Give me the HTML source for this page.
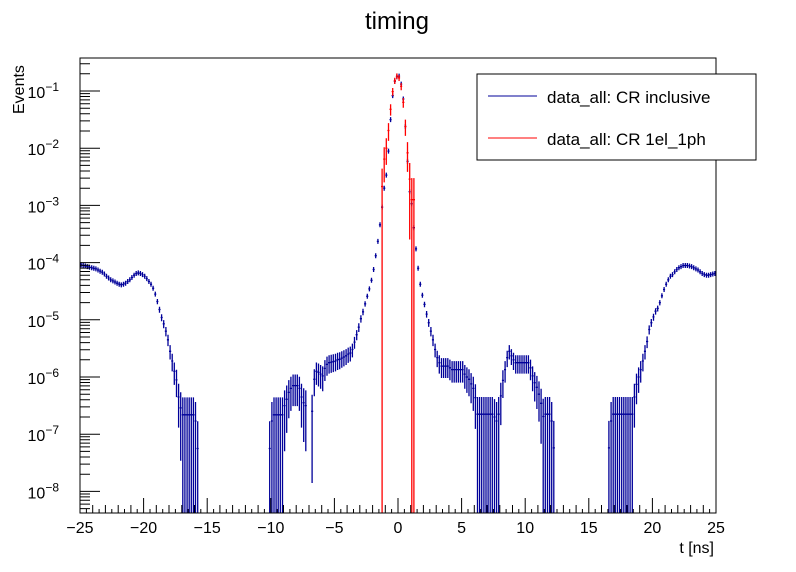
<!DOCTYPE html>
<html><head><meta charset="utf-8">
<style>
html,body{margin:0;padding:0;background:#fff;}
svg{display:block;font-family:"Liberation Sans",Arial,sans-serif;}
</style></head>
<body>
<svg id="chart" width="796" height="572" viewBox="0 0 796 572" xmlns="http://www.w3.org/2000/svg">
<rect x="0" y="0" width="796" height="572" fill="#fff"/>
<text x="397" y="29" font-size="24" text-anchor="middle">timing</text>
<g id="plot"></g>
<g id="axes"></g>
<rect x="80" y="58" width="636" height="455" fill="none" stroke="#000" stroke-width="1"/>
<text x="714" y="553" font-size="16" text-anchor="end">t [ns]</text>
<text transform="translate(24,114) rotate(-90)" font-size="16" text-anchor="start">Events</text>
<g>
<rect x="477" y="74" width="279" height="86" fill="#fff" stroke="#000" stroke-width="1"/>
<line x1="488" y1="96" x2="537" y2="96" stroke="#000099" stroke-width="1"/>
<text x="547" y="103" font-size="17">data_all: CR inclusive</text>
<line x1="488" y1="138" x2="537" y2="138" stroke="#ff0000" stroke-width="1"/>
<text x="547" y="145" font-size="17">data_all: CR 1el_1ph</text>
</g>
</svg>
<script>
// ---- data (log10 of Events per bin, bins of 1/6 ns from -25 to 25) ----
const binWidth = 1/6;
const xMin = -25;
const inclusiveLog = [
-4.04,-4.05,-4.06,-4.07,-4.08,-4.09,
-4.10,-4.11,-4.13,-4.15,-4.17,-4.20,
-4.24,-4.27,-4.30,-4.32,-4.34,-4.36,
-4.38,-4.39,-4.38,-4.36,-4.33,-4.30,
-4.26,-4.22,-4.19,-4.18,-4.19,-4.21,
-4.24,-4.28,-4.33,-4.38,-4.45,-4.55,
-4.68,-4.82,-4.96,-5.07,-5.20,-5.35,
-5.55,-5.72,-5.90,-6.05,-6.35,-6.54,
-6.66,-6.66,-6.66,-6.66,-6.66,-6.66,
-6.77,-7.25,null,null,null,null,
null,null,null,null,null,null,
null,null,null,null,null,null,
null,null,null,null,null,null,
null,null,null,null,null,null,
null,null,null,null,null,-7.25,
-6.77,-6.66,-6.66,-6.66,-6.66,-6.66,
-6.50,-6.39,-6.27,-6.20,-6.15,-6.15,
-6.15,-6.20,-6.35,-6.45,-6.50,null,
null,-6.60,-6.04,-5.90,-5.92,-5.95,
-5.98,-5.85,-5.78,-5.75,-5.74,-5.73,
-5.72,-5.70,-5.69,-5.67,-5.65,-5.63,
-5.60,-5.58,-5.52,-5.39,-5.26,-5.13,
-4.98,-4.86,-4.72,-4.59,-4.46,-4.31,
-4.12,-3.88,-3.63,-3.34,-3.03,-2.70,
-2.47,-2.05,-1.50,-1.08,-0.83,-0.75,
-0.74,-0.88,-1.14,-1.62,-2.23,-2.76,
-2.97,-3.39,-3.76,-4.10,-4.38,-4.57,
-4.73,-4.90,-5.05,-5.20,-5.35,-5.52,
-5.66,-5.75,-5.81,-5.81,-5.81,-5.81,
-5.84,-5.87,-5.87,-5.87,-5.87,-5.87,
-5.87,-5.95,-6.00,-6.04,-6.12,-6.20,
-6.36,-6.65,-6.65,-6.65,-6.65,-6.65,
-6.65,-6.65,-6.65,-6.70,-6.77,-6.65,
-6.33,-6.06,-5.87,-5.66,-5.55,-5.63,
-5.70,-5.75,-5.75,-5.75,-5.75,-5.75,
-5.75,-5.75,-5.84,-5.98,-6.10,-6.18,
-6.30,-6.46,-6.69,-6.65,-6.65,-6.65,
-6.77,-7.24,null,null,null,null,
null,null,null,null,null,null,
null,null,null,null,null,null,
null,null,null,null,null,null,
null,null,null,-7.24,-6.77,-6.65,
-6.65,-6.65,-6.65,-6.65,-6.65,-6.65,
-6.65,-6.65,-6.65,-6.35,-6.13,-6.00,
-5.87,-5.72,-5.55,-5.38,-5.17,-5.05,
-4.95,-4.85,-4.80,-4.70,-4.58,-4.47,
-4.38,-4.30,-4.24,-4.21,-4.16,-4.12,
-4.09,-4.07,-4.05,-4.05,-4.05,-4.06,
-4.07,-4.09,-4.11,-4.13,-4.16,-4.19,
-4.21,-4.22,-4.22,-4.21,-4.20,-4.19
];
const selFirstBin = 142;
const selectedLog = [-2.67,-2.19,-2.00,-1.69,-1.32,-1.01,-0.82,-0.74,-0.77,-0.92,-1.20,-1.62,-2.08,-2.54,-2.90,-2.90];
const xTicks = [-25,-20,-15,-10,-5,0,5,10,15,20,25];
const xTickLabels = ["\u221225","\u221220","\u221215","\u221210","\u22125","0","5","10","15","20","25"];
const yDecades = [-1,-2,-3,-4,-5,-6,-7,-8];

// ---- axes ----
const PX0=80, PX1=716, PY0=58, PY1=513;
const LTOP = -1 + (91-PY0)/57.2, LBOT = -1 - (PY1-91)/57.2;
function xs(t){ return PX0 + (t - xMin)/50*(PX1-PX0); }
function ys(L){ return PY0 + (LTOP - L)/(LTOP-LBOT)*(PY1-PY0); }
function clampY(y){ return Math.max(PY0, Math.min(PY1, y)); }
const NS="http://www.w3.org/2000/svg";
function mk(tag, attrs, parent){ const e=document.createElementNS(NS,tag); for(const k in attrs) e.setAttribute(k,attrs[k]); parent.appendChild(e); return e; }
const plot=document.getElementById('plot'), axes=document.getElementById('axes');

function drawSeries(vals, firstBin, color, baseL, nm){
  const g=mk('g',{},plot);
  
  
  let d='';
  vals.forEach((L,k)=>{
    if(L===null) return;
    const i=firstBin+k;
    const t0=xMin+i*binWidth, t1=t0+binWidth, tc=t0+binWidth/2;
    const rel=Math.sqrt(Math.pow(10, baseL-L));
    const up=L+Math.log10(1+rel);
    const lo= rel>=0.999 ? LBOT-1 : L+Math.log10(1-rel);
    const x=xs(tc), y=ys(L);
    const yu=Math.min(ys(up), y-2.5), yl=Math.max(ys(lo), y+2.5);
    if(y>=PY0 && y<=PY1) d+=`M${xs(t0).toFixed(1)} ${y.toFixed(1)}H${xs(t1).toFixed(1)}`;
    d+=`M${x.toFixed(1)} ${clampY(yu).toFixed(1)}V${clampY(yl).toFixed(1)}`;
  });
  const p=mk('path',{d:d,stroke:color,'stroke-width':1.3,fill:'none'},g);
  
  
}
drawSeries(inclusiveLog, 0, '#000099', -6.65, 'series-cr-inclusive');
drawSeries(selectedLog, selFirstBin, '#ff0000', -2.62, 'series-cr-1el-1ph');

// x ticks
let td='';
for(let t=-25;t<=25;t+=1){ const x=xs(t); td+=`M${x.toFixed(1)} ${PY1}V${PY1-(t%5===0?15:8)}`; }
for(let t=-24.5;t<25;t+=1){ const x=xs(t); td+=`M${x.toFixed(1)} ${PY1}V${PY1-4}`; }
// y ticks
for(let dcd=-9; dcd<=0; dcd++){
  for(let m=1;m<=9;m++){
    const L=dcd+Math.log10(m); if(L<LBOT||L>LTOP) continue;
    const y=ys(L); td+=`M${PX0} ${y.toFixed(1)}H${PX0+(m===1?20:10)}`;
  }
}
const tk=mk('path',{d:td,stroke:'#000','stroke-width':1,fill:'none'},axes);


xTicks.forEach((t,i)=>{
  const e=mk('text',{x:xs(t),y:533,'font-size':16,'text-anchor':'middle'},axes);
  e.textContent=xTickLabels[i];
  
  
});
yDecades.forEach(dcd=>{
  const y=ys(dcd);
  const e=mk('text',{x:59,y:y+7,'font-size':16,'text-anchor':'end'},axes);
  
  
  const a=mk('tspan',{},e); a.textContent='10';
  const b=mk('tspan',{dy:-7,'font-size':12},e); b.textContent='\u2212'+(-dcd);
});
</script>
</body></html>
